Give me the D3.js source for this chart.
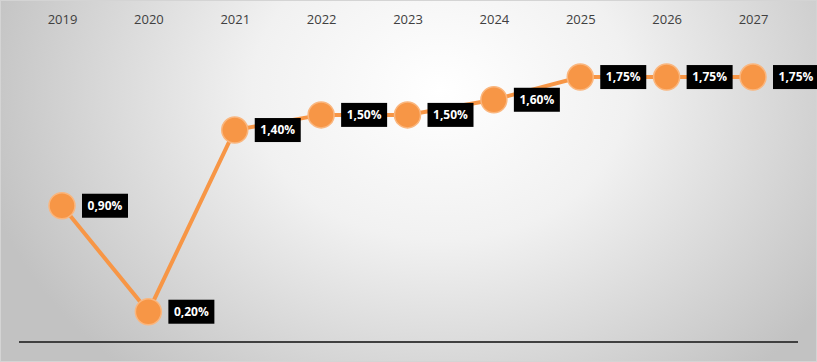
<!DOCTYPE html>
<html><head><meta charset="utf-8">
<script src="https://cdn.jsdelivr.net/npm/d3@7"></script>
<style>html,body{margin:0;padding:0;background:#fff;}svg{display:block;}</style>
</head><body>
<svg id="chart" width="817" height="362"></svg>
<script>
const years = ["2019","2020","2021","2022","2023","2024","2025","2026","2027"];
const values = [0.90, 0.20, 1.40, 1.50, 1.50, 1.60, 1.75, 1.75, 1.75];
const labels = ["0,90%","0,20%","1,40%","1,50%","1,50%","1,60%","1,75%","1,75%","1,75%"];

const W = 817, H = 362;
const svg = d3.select("#chart");
const defs = svg.append("defs");
const grad = defs.append("radialGradient").attr("id","bg")
  .attr("gradientUnits","userSpaceOnUse").attr("cx",440).attr("cy",90).attr("r",470)
  .attr("gradientTransform","translate(440,90) scale(1,0.8) translate(-440,-90)");
grad.append("stop").attr("offset","0%").attr("stop-color","#ffffff");
grad.append("stop").attr("offset","40%").attr("stop-color","#f1f1f1");
grad.append("stop").attr("offset","100%").attr("stop-color","#c2c2c2");
svg.append("rect").attr("x",0).attr("y",0).attr("width",W).attr("height",H).attr("fill","url(#bg)");
svg.append("rect").attr("x",0.5).attr("y",0.5).attr("width",W-1).attr("height",H-1)
  .attr("fill","none").attr("stroke","#d4d4d4").attr("stroke-width",1);

const x = d3.scalePoint().domain(years).range([62, 753]);
const y = d3.scaleLinear().domain([0, 2]).range([342, 342 - 2*151.4]);

// top axis with year labels
const xAxis = d3.axisTop(x).tickSize(0).tickPadding(0);
const gx = svg.append("g").attr("transform","translate(0,24)").call(xAxis);
gx.select(".domain").remove();
gx.selectAll("text").attr("font-family","'Open Sans', 'Liberation Sans', sans-serif")
  .attr("font-size",13).attr("fill","#404040").attr("dy",0);

// baseline
svg.append("line").attr("x1",19).attr("x2",798).attr("y1",y(0)).attr("y2",y(0))
  .attr("stroke","#404040").attr("stroke-width",2);

const data = years.map((yr,i)=>({yr, v: values[i], lab: labels[i]}));

svg.append("path").datum(data)
  .attr("d", d3.line().x(d=>x(d.yr)).y(d=>y(d.v)))
  .attr("fill","none").attr("stroke","#F79646").attr("stroke-width",4);

svg.selectAll("circle.pt").data(data).join("circle").attr("class","pt")
  .attr("cx",d=>x(d.yr)).attr("cy",d=>y(d.v)).attr("r",13)
  .attr("fill","#F79646").attr("stroke","#FAB67E").attr("stroke-width",1.5);

const lg = svg.selectAll("g.lab").data(data).join("g").attr("class","lab")
  .attr("transform",d=>`translate(${x(d.yr)+20},${y(d.v)})`);
lg.append("rect").attr("x",0).attr("y",-12).attr("width",46).attr("height",24).attr("fill","#000");
lg.append("text").attr("x",23).attr("y",0).attr("dy","0.35em").attr("text-anchor","middle")
  .attr("font-family","'Open Sans', 'Liberation Sans', sans-serif").attr("font-weight","bold")
  .attr("font-size",12).attr("fill","#fff").text(d=>d.lab);
</script>
</body></html>
